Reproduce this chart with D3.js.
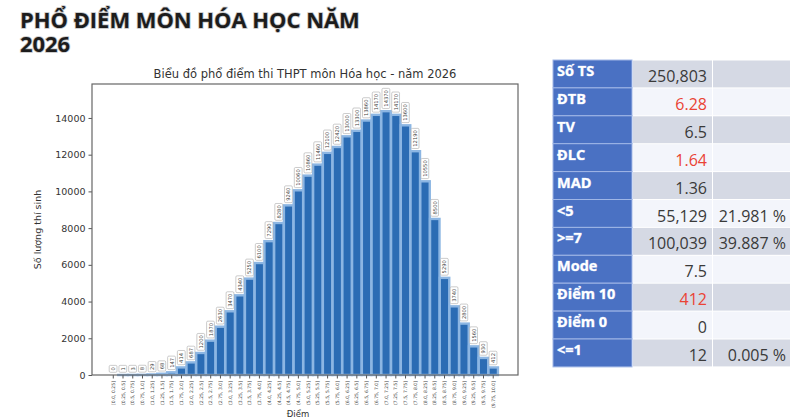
<!DOCTYPE html>
<html>
<head>
<meta charset="utf-8">
<script src="https://cdn.jsdelivr.net/npm/d3@7"></script>
<style>
  body { margin: 0; background: #fff; }
  svg { display: block; }
</style>
</head>
<body>
<svg id="pho-diem-svg" width="800" height="418"></svg>
<script>
// Data
const binLabels = [
  "[0.0, 0.25]", "(0.25, 0.5]", "(0.5, 0.75]", "(0.75, 1.0]", "(1.0, 1.25]",
  "(1.25, 1.5]", "(1.5, 1.75]", "(1.75, 2.0]", "(2.0, 2.25]", "(2.25, 2.5]",
  "(2.5, 2.75]", "(2.75, 3.0]", "(3.0, 3.25]", "(3.25, 3.5]", "(3.5, 3.75]",
  "(3.75, 4.0]", "(4.0, 4.25]", "(4.25, 4.5]", "(4.5, 4.75]", "(4.75, 5.0]",
  "(5.0, 5.25]", "(5.25, 5.5]", "(5.5, 5.75]", "(5.75, 6.0]", "(6.0, 6.25]",
  "(6.25, 6.5]", "(6.5, 6.75]", "(6.75, 7.0]", "(7.0, 7.25]", "(7.25, 7.5]",
  "(7.5, 7.75]", "(7.75, 8.0]", "(8.0, 8.25]", "(8.25, 8.5]", "(8.5, 8.75]",
  "(8.75, 9.0]", "(9.0, 9.25]", "(9.25, 9.5]", "(9.5, 9.75]", "(9.75, 10.0]"
];
const counts = [
  0, 1, 3, 8, 29, 68, 147, 414, 687, 1200,
  1870, 2630, 3470, 4340, 5250, 6100, 7290, 8280, 9240, 10060,
  10860, 11460, 12100, 12420, 13000, 13300, 13860, 14170, 14370, 14170,
  13600, 12190, 10550, 8500, 5290, 3740, 2800, 1560, 930, 412
];
const yTicks = [0, 2000, 4000, 6000, 8000, 10000, 12000, 14000];

const statLabels = ["Số TS", "ĐTB", "TV", "ĐLC", "MAD", "<5", ">=7", "Mode", "Điểm 10", "Điểm 0", "<=1"];
const statValues = ["250,803", "6.28", "6.5", "1.64", "1.36", "55,129", "100,039", "7.5", "412", "0", "12"];
const statPercents = ["", "", "", "", "", "21.981 %", "39.887 %", "", "", "", "0.005 %"];
const statRed = ["ĐTB", "ĐLC", "Điểm 10"];

const pageTitle = ["PHỔ ĐIỂM MÔN HÓA HỌC NĂM", "2026"];
const chartTitle = "Biểu đồ phổ điểm thi THPT môn Hóa học - năm 2026";

// Colors / fonts
const BAR_COLOR = "#2b6cb4";
const BAR_EDGE = "#8cb6e3";
const MPL_FONT = "'DejaVu Sans', sans-serif";
const UI_FONT = "'Open Sans', 'Noto Sans', sans-serif";

const svg = d3.select("#pho-diem-svg");
svg.append("rect").attr("width", 800).attr("height", 418).attr("fill", "#fff");

// Page title (one text, two lines)
const titleText = svg.append("text")
  .attr("x", 20)
  .attr("y", 28)
  .style("font-family", UI_FONT)
  .style("font-weight", 700)
  .style("font-size", "21px")
  .style("fill", "#1c1c1c")
  .style("stroke", "#c4c4c4")
  .style("stroke-width", 1.6)
  .style("paint-order", "stroke");
titleText.selectAll("tspan")
  .data(pageTitle)
  .enter()
  .append("tspan")
  .attr("x", 20)
  .attr("y", (d, i) => 28 + i * 24)
  .text((d) => d);

// Fit first line to its width in the picture
const firstLine = titleText.select("tspan").node();
const fitScale = 340 / firstLine.getComputedTextLength();
titleText.style("font-size", 21 * fitScale + "px");

// Plot area
const plot = { left: 92, right: 518, top: 84, bottom: 375 };

const xScale = d3
  .scaleBand()
  .domain(binLabels)
  .range([108.4, 498.1])
  .paddingInner(0.03)
  .paddingOuter(0.015);

const yScale = d3
  .scaleLinear()
  .domain([0, 15850])
  .range([plot.bottom, plot.top]);

// Chart title
svg.append("text")
  .attr("x", (plot.left + plot.right) / 2)
  .attr("y", 78)
  .attr("text-anchor", "middle")
  .style("font-family", MPL_FONT)
  .style("font-size", "11.5px")
  .style("fill", "#333")
  .text(chartTitle);

// Bars
svg.append("g")
  .selectAll("rect")
  .data(counts)
  .enter()
  .append("rect")
  .attr("x", (d, i) => xScale(binLabels[i]))
  .attr("y", (d) => yScale(d))
  .attr("width", xScale.bandwidth())
  .attr("height", (d) => plot.bottom - yScale(d))
  .style("fill", BAR_COLOR)
  .style("stroke", (d) => (d > 0 ? BAR_EDGE : "none"))
  .style("stroke-width", 2.4);

// Bar value labels (rotated, boxed)
const labelG = svg.append("g");
counts.forEach((d, i) => {
  const cx = xScale(binLabels[i]) + xScale.bandwidth() / 2;
  const g = labelG.append("g")
    .attr("transform", `translate(${cx},${yScale(d) - 3.5}) rotate(-90)`);
  const t = g.append("text")
    .attr("x", 1)
    .attr("y", 0)
    .attr("dy", "0.35em")
    .style("font-family", MPL_FONT)
    .style("font-size", "5.2px")
    .style("fill", "#444")
    .text(d);
  const bb = t.node().getBBox();
  g.insert("rect", "text")
    .attr("x", bb.x - 1.8)
    .attr("y", bb.y - 0.9)
    .attr("width", bb.width + 3.6)
    .attr("height", bb.height + 1.8)
    .attr("rx", 1.2)
    .style("fill", "#fff")
    .style("stroke", "#aaa")
    .style("stroke-width", 0.6);
});

// Y Axis
const yAxis = d3
  .axisLeft(yScale)
  .tickValues(yTicks)
  .tickFormat(d3.format("d"))
  .tickSize(3.5)
  .tickPadding(3);
const yAxisG = svg.append("g")
  .attr("transform", `translate(${plot.left},0)`)
  .call(yAxis);
yAxisG.select(".domain").remove();
yAxisG.selectAll("line").style("stroke", "#555");
yAxisG.selectAll("text")
  .style("font-family", MPL_FONT)
  .style("font-size", "9.5px")
  .style("fill", "#333");

// X Axis
const xAxis = d3.axisBottom(xScale).tickSize(3.5).tickPadding(2);
const xAxisG = svg.append("g")
  .attr("transform", `translate(0,${plot.bottom})`)
  .call(xAxis);
xAxisG.select(".domain").remove();
xAxisG.selectAll("line").style("stroke", "#555");
xAxisG.selectAll("text")
  .attr("transform", "rotate(-90)")
  .attr("x", -6)
  .attr("y", 0)
  .attr("dy", "0.35em")
  .style("text-anchor", "end")
  .style("font-family", MPL_FONT)
  .style("font-size", "4.6px")
  .style("fill", "#444");

// Frame
svg.append("rect")
  .attr("x", plot.left)
  .attr("y", plot.top)
  .attr("width", plot.right - plot.left)
  .attr("height", plot.bottom - plot.top)
  .style("fill", "none")
  .style("stroke", "#666")
  .style("stroke-width", 1.2);

// Axis labels
svg.append("text")
  .attr("transform", `translate(41,${(plot.top + plot.bottom) / 2}) rotate(-90)`)
  .attr("text-anchor", "middle")
  .style("font-family", MPL_FONT)
  .style("font-size", "9.5px")
  .style("fill", "#333")
  .text("Số lượng thí sinh");

svg.append("text")
  .attr("x", 298)
  .attr("y", 416.5)
  .attr("text-anchor", "middle")
  .style("font-family", MPL_FONT)
  .style("font-size", "8.5px")
  .style("fill", "#333")
  .text("Điểm");

// Stats table
const table = { x: 553, y: 60, rowH: 27.9, labelW: 79, valueW: 80, pctW: 77 };
const tableG = svg.append("g");

statLabels.forEach((label, i) => {
  const top = table.y + i * table.rowH;
  const rowBg = i % 2 === 0 ? "#d5d9e4" : "#f3f5fb";
  const row = tableG.append("g");

  row.append("rect")
    .attr("x", table.x)
    .attr("y", top)
    .attr("width", table.labelW)
    .attr("height", table.rowH)
    .style("fill", "#4a71c3")
    .style("stroke", "#9fb6e6")
    .style("stroke-width", 1);

  row.append("rect")
    .attr("x", table.x + table.labelW + 1)
    .attr("y", top + 0.5)
    .attr("width", table.valueW - 1)
    .attr("height", table.rowH - 1)
    .style("fill", rowBg);

  row.append("rect")
    .attr("x", table.x + table.labelW + table.valueW + 1)
    .attr("y", top + 0.5)
    .attr("width", table.pctW)
    .attr("height", table.rowH - 1)
    .style("fill", rowBg);

  row.append("text")
    .attr("x", table.x + 4)
    .attr("y", top + 16)
    .style("font-family", UI_FONT)
    .style("font-weight", 700)
    .style("font-size", "14.5px")
    .style("fill", "#fff")
    .style("stroke", "#b9c9ef")
    .style("stroke-width", 0.6)
    .style("paint-order", "stroke")
    .text(label);

  row.append("text")
    .attr("x", table.x + table.labelW + table.valueW - 5)
    .attr("y", top + 22)
    .attr("text-anchor", "end")
    .style("font-family", UI_FONT)
    .style("font-size", "16px")
    .style("fill", statRed.includes(label) ? "#ea4335" : "#3a3a3a")
    .text(statValues[i]);

  if (statPercents[i] !== "") {
    row.append("text")
      .attr("x", table.x + table.labelW + table.valueW + table.pctW - 3)
      .attr("y", top + 22)
      .attr("text-anchor", "end")
      .style("font-family", UI_FONT)
      .style("font-size", "16px")
      .style("fill", "#3a3a3a")
      .text(statPercents[i]);
  }
});
</script>
</body>
</html>
